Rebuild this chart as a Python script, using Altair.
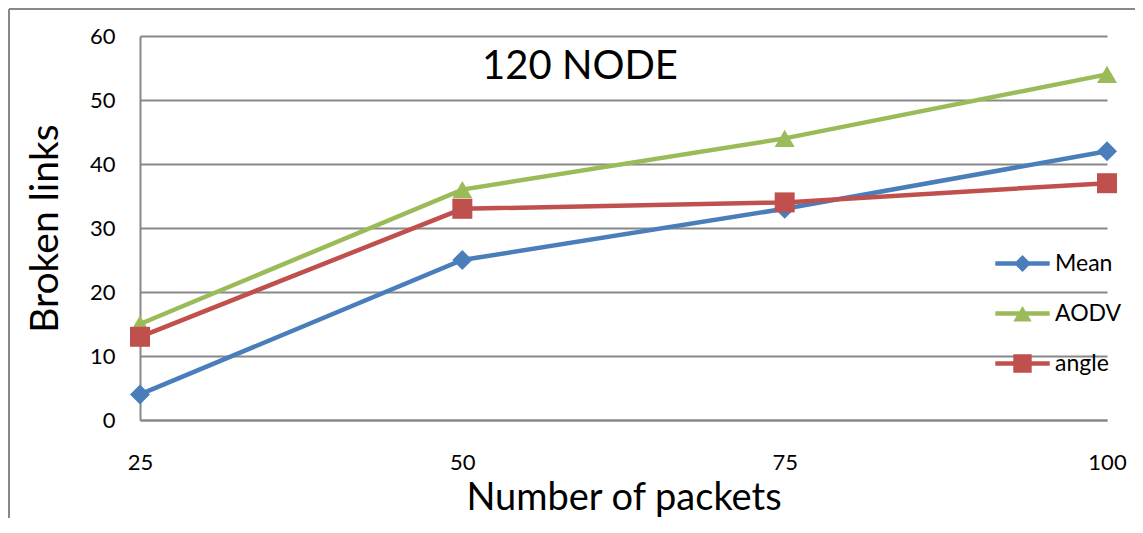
import altair as alt
import pandas as pd

packets = [25, 50, 75, 100]
series_names = ["Mean", "AODV", "angle"]
mean_vals = [4, 25, 33, 42]
aodv_vals = [15, 36, 44, 54]
angle_vals = [13, 33, 34, 37]
colors = ["#4A7EBB", "#9BBB59", "#C0504D"]
marker_shapes = ["diamond", "triangle-up", "square"]
y_ticks = [0, 10, 20, 30, 40, 50, 60]
title_text = "120 NODE"
x_title = "Number of packets"
y_title = "Broken links"

rows = []
for name, vals in zip(series_names, [mean_vals, aodv_vals, angle_vals]):
    for p, v in zip(packets, vals):
        rows.append({"packets": p, "series": name, "value": v})
df = pd.DataFrame(rows)

FONT = "Lato"
W, H = 967, 384
GRID = "#888888"

x_enc = alt.X(
    "packets:Q",
    scale=alt.Scale(domain=[25, 100], nice=False, zero=False),
    axis=alt.Axis(values=packets, title=x_title, grid=False, ticks=False, format="d",
                  labelFlush=False, labelFontSize=22, labelPadding=32, labelFont=FONT,
                  labelColor="black",
                  titleFontSize=38, titleFont=FONT, titleColor="black", titleFontWeight="normal",
                  titlePadding=6, domainColor=GRID, domainWidth=2),
)
y_enc = alt.Y(
    "value:Q",
    scale=alt.Scale(domain=[0, 60], nice=False),
    axis=alt.Axis(values=y_ticks, title=y_title, grid=True, gridColor=GRID, gridWidth=2,
                  ticks=False, labelFontSize=22, labelPadding=25, labelFont=FONT, labelColor="black",
                  titleFontSize=39, titleFont=FONT, titleColor="black", titleFontWeight="normal",
                  titlePadding=24, domainColor=GRID, domainWidth=2),
)
legend_paths = [
    "M-3.4,-0.28H3.4V0.28H-3.4Z M0,-1.05L1.05,0L0,1.05L-1.05,0Z",
    "M-3.4,-0.28H3.4V0.28H-3.4Z M0,-0.95L1.15,1L-1.15,1Z",
    "M-3.4,-0.28H3.4V0.28H-3.4Z M-1.15,-1.15H1.15V1.15H-1.15Z",
]
color_enc = alt.Color("series:N", scale=alt.Scale(domain=series_names, range=colors))

base = alt.Chart(df)
lines = base.mark_line(strokeWidth=4.5).encode(x=x_enc, y=y_enc, color=color_enc, detail="series:N")

point_layers = []
for name, shp in zip(series_names, marker_shapes):
    point_layers.append(
        base.transform_filter(alt.datum.series == name)
        .mark_point(shape=shp, filled=True, size=400, opacity=1)
        .encode(x=x_enc, y=y_enc, color=color_enc)
    )

legend_layer = base.mark_point(filled=True, opacity=0).encode(
    x=x_enc, y=y_enc, color=color_enc,
    shape=alt.Shape("series:N", scale=alt.Scale(domain=series_names, range=legend_paths)),
)

title_layer = alt.Chart(pd.DataFrame({"t": [title_text]})).mark_text(
    fontSize=40, font=FONT, color="black", align="center", baseline="middle"
).encode(x=alt.value(440), y=alt.value(31), text="t:N")

one = pd.DataFrame({"a": [0]})
border_left = alt.Chart(one).mark_rule(color=GRID, strokeWidth=2).encode(
    x=alt.value(-131), y=alt.value(-27), y2=alt.value(600))
border_top = alt.Chart(one).mark_rule(color=GRID, strokeWidth=2).encode(
    y=alt.value(-27), x=alt.value(-131), x2=alt.value(1100))

chart = alt.layer(
    border_left, border_top, lines, *point_layers, legend_layer, title_layer
).properties(
    width=W, height=H,
    autosize=alt.AutoSizeParams(type="none"),
    padding={"left": 132, "top": 28, "right": 28, "bottom": 98},
).configure_view(strokeWidth=0).configure_legend(
    orient="none", legendX=871, legendY=216, title=None, labelFontSize=23,
    labelFont=FONT, labelColor="black", symbolSize=256, labelOffset=21,
    rowPadding=26, padding=0, symbolStrokeWidth=0, symbolOpacity=1
)

chart.save("out.html", embed_options={"renderer": "svg", "actions": False})
